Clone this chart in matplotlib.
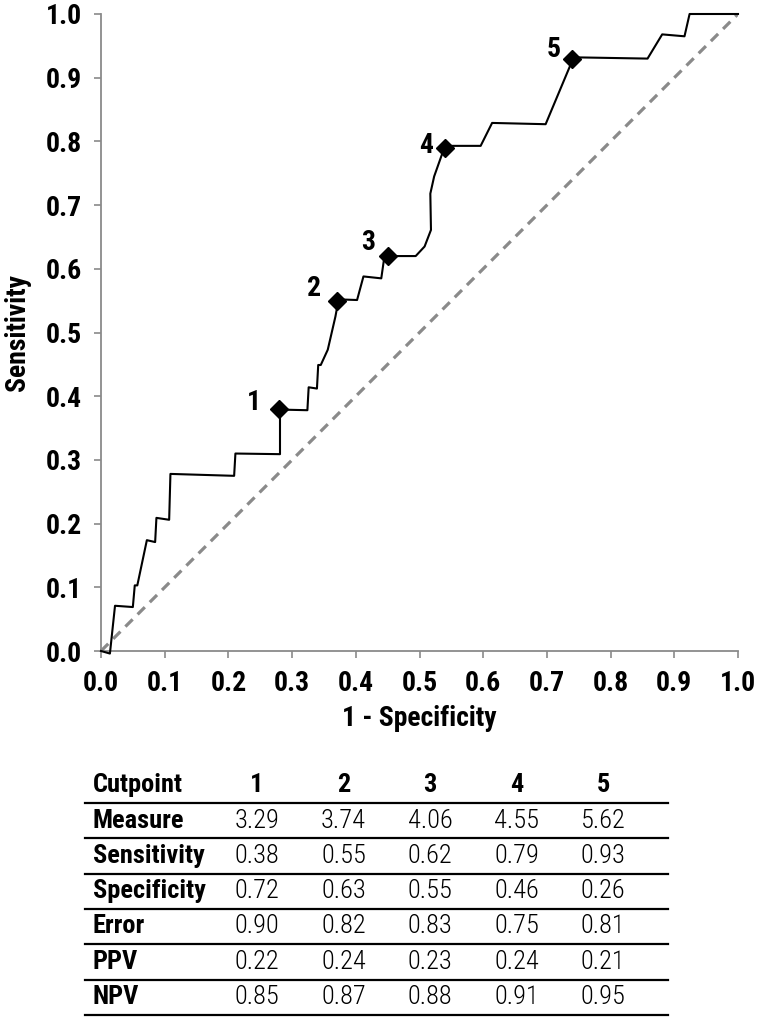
import matplotlib
matplotlib.use("Agg")
import matplotlib.pyplot as plt
from matplotlib import font_manager
from matplotlib.lines import Line2D

# pick a narrow font if one is there
fonts = font_manager.fontManager.ttflist
names = set(f.name for f in fonts)
stretch = 'normal'
narrow = None
for n in ['Liberation Sans Narrow', 'Roboto Condensed', 'DejaVu Sans Condensed',
          'Open Sans Condensed', 'Noto Sans Condensed']:
    if n in names:
        narrow = n
        break
if narrow is None:
    others = sorted(n for n in names if 'Condensed' in n or 'Narrow' in n)
    if others:
        narrow = others[0]
if narrow is None:
    cond = [f for f in fonts if str(f.stretch) in ('condensed', 'semi-condensed', '75', '87')]
    if cond:
        narrow = cond[0].name
        stretch = 'condensed'
if narrow is None:
    narrow = 'Roboto'
plt.rcParams['font.family'] = [narrow, 'DejaVu Sans']
plt.rcParams['font.stretch'] = stretch

# ROC curve
fpr = [0.0, 0.014, 0.022, 0.050, 0.053, 0.057, 0.072, 0.085, 0.087, 0.107, 0.109,
       0.209, 0.211, 0.281, 0.281, 0.324, 0.326, 0.339, 0.341, 0.345, 0.356, 0.368,
       0.373, 0.402, 0.412, 0.440, 0.445, 0.494, 0.508, 0.518, 0.517, 0.523, 0.540,
       0.596, 0.614, 0.698, 0.742, 0.858, 0.881, 0.916, 0.924, 1.0]
tpr = [0.0, -0.004, 0.071, 0.069, 0.103, 0.103, 0.174, 0.171, 0.209, 0.206, 0.278,
       0.275, 0.310, 0.309, 0.379, 0.378, 0.414, 0.412, 0.449, 0.449, 0.473, 0.525,
       0.552, 0.551, 0.588, 0.585, 0.620, 0.620, 0.635, 0.661, 0.718, 0.745, 0.793,
       0.793, 0.829, 0.827, 0.932, 0.930, 0.968, 0.965, 1.0, 1.0]

# table data
cutpoints = ['1', '2', '3', '4', '5']
row_names = ['Measure', 'Sensitivity', 'Specificity', 'Error', 'PPV', 'NPV']
measure = [3.29, 3.74, 4.06, 4.55, 5.62]
sensitivity = [0.38, 0.55, 0.62, 0.79, 0.93]
specificity = [0.72, 0.63, 0.55, 0.46, 0.26]
error = [0.90, 0.82, 0.83, 0.75, 0.81]
ppv = [0.22, 0.24, 0.23, 0.24, 0.21]
npv = [0.85, 0.87, 0.88, 0.91, 0.95]
rows = [measure, sensitivity, specificity, error, ppv, npv]

# label offsets (pixels) for the cutpoint numbers
label_off = [(-25, 6), (-23, 12), (-20, 14), (-19, 2), (-19, 9)]

W, H = 757, 1019
fig = plt.figure(figsize=(W / 100, H / 100), dpi=100)
ax = fig.add_axes([101 / W, 1 - 651 / H, 637 / W, 637 / H])

gray = '#8a8a8a'
ax.plot([0, 1], [0, 1], color=gray, lw=2.3, dashes=(3.2, 2.2))
ax.plot(fpr, tpr, color='black', lw=1.5, clip_on=False, zorder=3)

xs = [1 - s for s in specificity]
ax.plot(xs, sensitivity, 'D', color='black', ms=9, zorder=4, clip_on=False)
for lab, x, y, off in zip(cutpoints, xs, sensitivity, label_off):
    ax.annotate(lab, (x, y), xytext=off, textcoords='offset pixels',
                ha='center', va='center', fontsize=20, fontweight='bold')

ax.set_xlim(0, 1)
ax.set_ylim(0, 1)
ticks = [i / 10 for i in range(11)]
ax.set_xticks(ticks)
ax.set_yticks(ticks)
ax.set_xticklabels(['%.1f' % t for t in ticks], fontsize=20, fontweight='bold')
ax.set_yticklabels(['%.1f' % t for t in ticks], fontsize=20, fontweight='bold')
ax.tick_params(direction='out', length=5, width=1.2, color=gray, pad=8.5)
for s in ['top', 'right']:
    ax.spines[s].set_visible(False)
for s in ['left', 'bottom']:
    ax.spines[s].set_color(gray)
    ax.spines[s].set_linewidth(1.3)
ax.set_xlabel('1 - Specificity', fontsize=20, fontweight='bold', labelpad=6)
ax.set_ylabel('Sensitivity', fontsize=20, fontweight='bold')
ax.yaxis.set_label_coords(-0.110, 0.5)


def fx(x):
    return x / W


def fy(y):
    return 1 - y / H


# table below the plot
col_x = [257 + 86.5 * i for i in range(5)]
fig.text(fx(93), fy(785), 'Cutpoint', fontsize=19, fontweight='bold', va='center')
for c, x in zip(cutpoints, col_x):
    fig.text(fx(x), fy(785), c, fontsize=19, fontweight='bold', ha='center', va='center')
for i, (name, vals) in enumerate(zip(row_names, rows)):
    yc = 820.5 + 35.3 * i
    fig.text(fx(93), fy(yc), name, fontsize=19, fontweight='bold', va='center')
    for v, x in zip(vals, col_x):
        fig.text(fx(x), fy(yc), '%.2f' % v, fontsize=19, fontweight='light',
                 ha='center', va='center')
for k in range(7):
    yl = 803 + 35.3 * k
    fig.add_artist(Line2D([fx(85), fx(668)], [fy(yl), fy(yl)], color='black', lw=1.6))

fig.savefig('out.png', dpi=100)
